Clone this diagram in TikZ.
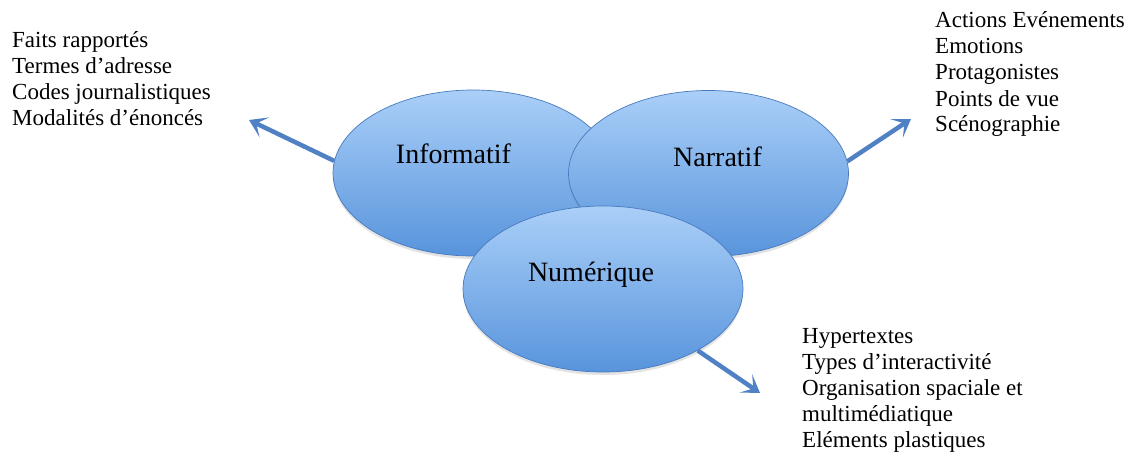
\documentclass[tikz,border=0pt]{standalone}
\usepackage{fontspec}
\setmainfont{Liberation Serif}
\usetikzlibrary{arrows.meta,shadows,shapes.geometric}
\definecolor{arrowblue}{RGB}{79,129,196}
\definecolor{elltop}{RGB}{170,207,248}
\definecolor{ellbot}{RGB}{88,148,220}
\definecolor{ellline}{RGB}{72,122,190}
\begin{document}
\begin{tikzpicture}[x=1pt,y=-1pt,
  bubble/.style={ellipse, draw=ellline, line width=0.7pt, top color=elltop, bottom color=ellbot,
    inner sep=0pt, minimum width=280pt, minimum height=166pt,
    drop shadow={opacity=0.22, shadow xshift=0pt, shadow yshift=-3pt}},
  bubbletext/.style={anchor=base, inner sep=0pt, font=\fontsize{28}{32}\selectfont},
  listtext/.style={anchor=base west, inner sep=0pt, font=\fontsize{23}{26}\selectfont},
  link/.style={arrowblue, line width=4.5pt, -{Stealth[length=17pt,width=22pt,inset=9pt]}}]
\useasboundingbox (0,0) rectangle (1132,452);

\node[bubble] (inf) at (473,173) {};
\node[bubble] (nar) at (708.5,173.5) {};
\node[bubble] (num) at (603,289) {};

\node[bubbletext] (infl) at (453.5,163) {Informatif};
\node[bubbletext] (narl) at (717.5,166) {Narratif};
\node[bubbletext] (numl) at (591,281) {Numérique};

\coordinate (tipL) at (249,120);
\coordinate (tipR) at (911,119);
\coordinate (tipB) at (760,393);

\draw[link] (inf.175) -- (tipL);
\draw[link] (nar.5) -- (tipR);
\draw[link] (num.-33) -- (tipB);

\node[listtext] (listL) at (12,48) {\begin{tabular}[t]{@{}l@{}}Faits rapportés\\Termes d’adresse\\Codes journalistiques\\Modalités d’énoncés\end{tabular}};
\node[listtext] (listR) at (935,28) {\begin{tabular}[t]{@{}l@{}}Actions Evénements\\Emotions\\Protagonistes\\Points de vue\\Scénographie\end{tabular}};
\node[listtext] (listB) at (802,343) {\begin{tabular}[t]{@{}l@{}}Hypertextes\\Types d’interactivité\\Organisation spaciale et\\multimédiatique\\Eléments plastiques\end{tabular}};
\end{tikzpicture}
\end{document}
